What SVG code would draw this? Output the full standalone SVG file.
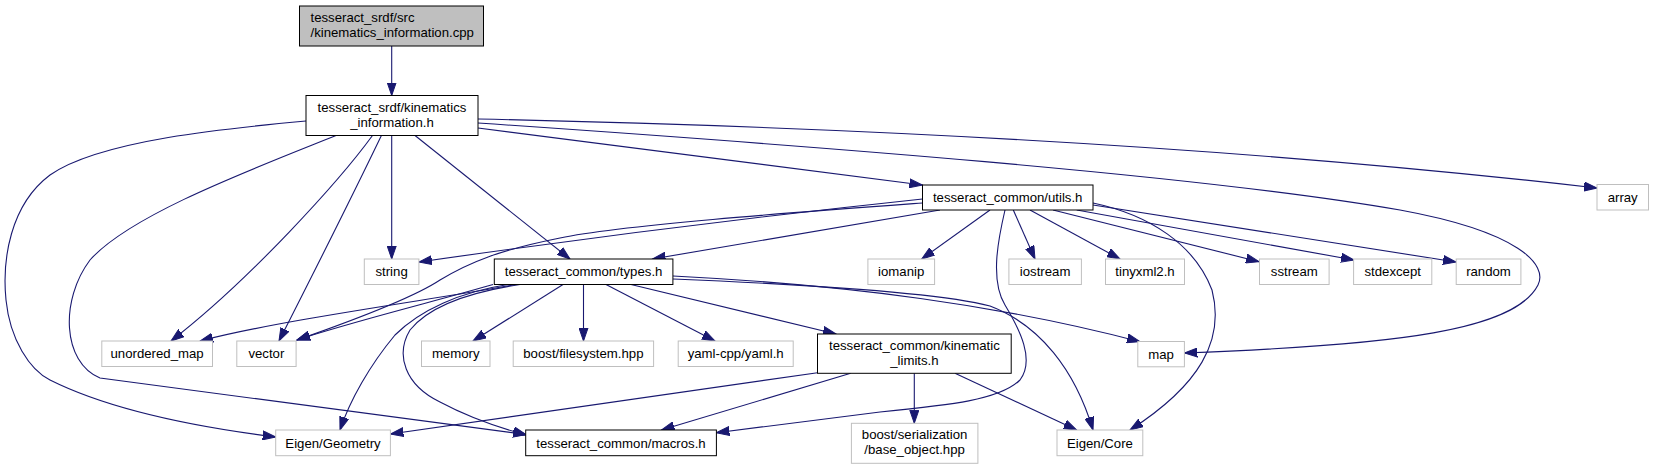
<svg xmlns="http://www.w3.org/2000/svg" width="1653" height="469" viewBox="0 0 1653 469">
<style>
.n rect{fill:#fff;stroke:#000;stroke-width:1}
.n.x rect{stroke:#bfbfbf}
.n.cur rect{fill:#bfbfbf}
.n text{font-family:"Liberation Sans",Arial,sans-serif;font-size:13.2px;fill:#000;text-anchor:middle}
.n.cur text{text-anchor:start}
#edges path{fill:none;stroke:#191970;stroke-width:1.1;marker-end:url(#arr)}
</style>
<defs>
<marker id="arr" markerUnits="userSpaceOnUse" markerWidth="14" markerHeight="10" refX="13" refY="5" orient="auto">
<path d="M0,0.5 L13,5 L0,9.5 z" fill="#191970" stroke="#191970" stroke-width="1"/>
</marker>
</defs>
<rect width="1653" height="469" fill="#fff"/>
<g id="edges">
<path d="M391.7,46 L391.7,95.5"/>
<path d="M306,121 C230,128 100,140 50,175 C10,205 2,260 6,300 C10,340 30,370 50,380 C120,415 220,430 275.7,437"/>
<path d="M336,135.5 C250,170 130,215 90,260 C60,300 62,362 100,378 L526,434.5"/>
<path d="M372.5,135.5 C340,180 250,280 171,341"/>
<path d="M381.4,135.5 C360,180 310,280 279,341"/>
<path d="M391.7,135.5 L391.7,259"/>
<path d="M415,135.5 L570,259"/>
<path d="M478,128 L922.5,185"/>
<path d="M478,123 C800,145 1200,175 1400,210 C1520,232 1548,265 1538,285 C1515,330 1400,345 1184.4,353"/>
<path d="M478,119 C850,127 1250,148 1597,188"/>
<path d="M922.5,199 C800,212 600,236 419,262"/>
<path d="M922.5,203 C800,212 620,225 560,238 C500,250 470,262 440,280 C410,300 340,325 297,340"/>
<path d="M940,210 L652.5,259"/>
<path d="M990,210 L921.7,259"/>
<path d="M1013.3,210 L1035,259"/>
<path d="M1005,210 C998,240 990,280 1005,305 C1020,330 1035,360 1020,380 C1000,400 950,405 880,412 L716.4,432.7"/>
<path d="M1030,210 L1120,259"/>
<path d="M1053,210 L1259,261.7"/>
<path d="M1076.7,210 L1354,260"/>
<path d="M1093,205 L1456,262"/>
<path d="M1093,203 C1150,215 1195,245 1212,290 C1225,340 1200,385 1130,430"/>
<path d="M513,285 C430,300 280,320 200,341"/>
<path d="M493,284.5 C440,300 350,322 297,340"/>
<path d="M508,284.5 C460,292 420,310 395,335 C370,365 350,400 340,430"/>
<path d="M520,284.5 C470,292 430,305 410,330 C395,355 405,385 440,402 C470,418 500,428 526.7,435"/>
<path d="M563,284.5 L473,341"/>
<path d="M583.5,284.5 L583.5,341"/>
<path d="M606,284.5 L715,341"/>
<path d="M631,284.5 L836,334"/>
<path d="M673,276 C850,285 1000,305 1140,341.7"/>
<path d="M673,279 C820,285 940,293 990,306 C1040,325 1075,370 1093,430"/>
<path d="M817.5,372.7 L390.4,434"/>
<path d="M850.7,373.3 L661.4,430"/>
<path d="M914.3,373.3 L914.3,423.3"/>
<path d="M955,373.3 L1076.7,430"/>
</g>
<g id="node1" class="n cur"><rect x="299.5" y="6" width="184" height="40"/><text x="310.5" y="22">tesseract_srdf/src</text><text x="310.5" y="37">/kinematics_information.cpp</text></g>
<g id="node2" class="n"><rect x="306" y="95.5" width="172" height="40"/><text x="392" y="111.5">tesseract_srdf/kinematics</text><text x="392" y="126.5">_information.h</text></g>
<g id="node3" class="n"><rect x="922.5" y="185" width="170.5" height="25"/><text x="1007.7" y="202">tesseract_common/utils.h</text></g>
<g id="node4" class="n x"><rect x="1597" y="184.5" width="51.5" height="25.5"/><text x="1622.7" y="202">array</text></g>
<g id="node5" class="n x"><rect x="364.3" y="259" width="54.6" height="25.5"/><text x="391.6" y="276.3">string</text></g>
<g id="node6" class="n"><rect x="494.3" y="259" width="178.6" height="25.5"/><text x="583.6" y="276.3">tesseract_common/types.h</text></g>
<g id="node7" class="n x"><rect x="867.9" y="259" width="66.7" height="25.5"/><text x="901.2" y="276.3">iomanip</text></g>
<g id="node8" class="n x"><rect x="1008.9" y="259" width="72.5" height="25.5"/><text x="1045.1" y="276.3">iostream</text></g>
<g id="node9" class="n x"><rect x="1105.5" y="259" width="79" height="25.5"/><text x="1145" y="276.3">tinyxml2.h</text></g>
<g id="node10" class="n x"><rect x="1259.5" y="259" width="69.6" height="25.5"/><text x="1294.3" y="276.3">sstream</text></g>
<g id="node11" class="n x"><rect x="1353.6" y="259" width="78.2" height="25.5"/><text x="1392.7" y="276.3">stdexcept</text></g>
<g id="node12" class="n x"><rect x="1456.2" y="259" width="64.7" height="25.5"/><text x="1488.5" y="276.3">random</text></g>
<g id="node13" class="n x"><rect x="101.8" y="341" width="110.7" height="25.5"/><text x="157.1" y="358.3">unordered_map</text></g>
<g id="node14" class="n x"><rect x="236.8" y="341" width="59.3" height="25.5"/><text x="266.4" y="358.3">vector</text></g>
<g id="node15" class="n x"><rect x="421.5" y="341" width="68.5" height="25.5"/><text x="455.7" y="358.3">memory</text></g>
<g id="node16" class="n x"><rect x="513.2" y="341" width="140.4" height="25.5"/><text x="583.4" y="358.3">boost/filesystem.hpp</text></g>
<g id="node17" class="n x"><rect x="678.2" y="341" width="115" height="25.5"/><text x="735.7" y="358.3">yaml-cpp/yaml.h</text></g>
<g id="node18" class="n"><rect x="817.5" y="334" width="193.7" height="39.3"/><text x="914.4" y="349.5">tesseract_common/kinematic</text><text x="914.4" y="364.5">_limits.h</text></g>
<g id="node19" class="n x"><rect x="1137.8" y="341.5" width="46.6" height="25.3"/><text x="1161.1" y="358.5">map</text></g>
<g id="node20" class="n x"><rect x="275.7" y="430" width="114.7" height="25.7"/><text x="333" y="447.5">Eigen/Geometry</text></g>
<g id="node21" class="n"><rect x="525.7" y="430" width="190.7" height="25.7"/><text x="621" y="447.5">tesseract_common/macros.h</text></g>
<g id="node22" class="n x"><rect x="851.4" y="423.3" width="126.5" height="40"/><text x="914.6" y="439">boost/serialization</text><text x="914.6" y="454">/base_object.hpp</text></g>
<g id="node23" class="n x"><rect x="1057" y="430" width="85.8" height="25.7"/><text x="1099.9" y="447.5">Eigen/Core</text></g>
</svg>
